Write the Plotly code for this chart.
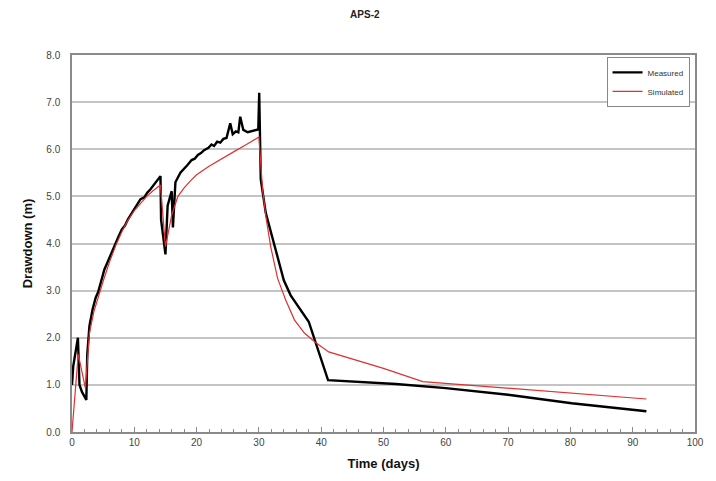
import plotly.graph_objects as go

# Measured drawdown (days, m)
meas_t = [0.0, 0.2, 0.95, 1.2, 1.6, 2.0, 2.3, 2.45, 2.8, 3.3, 3.8, 4.2, 4.7, 5.2, 5.7, 6.3, 6.8,
          7.4, 8.0, 8.5, 9.0, 9.5, 10.0, 10.5, 11.0, 11.6, 12.1, 12.6, 13.1, 13.6, 14.2, 14.3,
          15.0, 15.35, 16.0, 16.2, 16.6, 17.4, 18.0, 18.5, 19.2, 19.7, 20.2, 20.7, 21.2, 21.9,
          22.4, 22.8, 23.3, 23.8, 24.3, 24.8, 25.4, 25.8, 26.3, 26.7, 27.0, 27.5, 28.2, 29.0,
          29.9, 30.05, 30.15, 30.3, 31.1, 32.5, 34.0, 35.1, 38.0, 41.1, 52.0, 60.0, 70.0, 80.2, 92.2]
meas_d = [1.0, 1.4, 2.0, 1.0, 0.85, 0.76, 0.68, 1.65, 2.25, 2.6, 2.85, 2.97, 3.2, 3.45, 3.6, 3.8, 3.95,
          4.13, 4.3, 4.38, 4.52, 4.62, 4.72, 4.82, 4.94, 4.98, 5.08, 5.15, 5.24, 5.32, 5.43, 4.5,
          3.77, 4.8, 5.11, 4.34, 5.3, 5.5, 5.6, 5.66, 5.77, 5.8, 5.88, 5.92, 5.98, 6.03,
          6.1, 6.07, 6.16, 6.14, 6.22, 6.24, 6.55, 6.32, 6.38, 6.36, 6.69, 6.41, 6.36, 6.39,
          6.42, 7.2, 5.9, 5.36, 4.65, 3.93, 3.22, 2.9, 2.34, 1.1, 1.02, 0.93, 0.79, 0.61, 0.44]

# Simulated drawdown (days, m)
sim_t = [0.0, 1.0, 2.15, 2.8, 3.5, 4.2, 5.0, 6.0, 7.0, 8.0, 9.0, 10.0, 11.0, 12.0, 13.0, 14.2,
         15.0, 16.0, 17.0, 18.0, 19.0, 20.0, 22.0, 24.0, 26.0, 28.0, 30.0, 30.6, 31.2, 31.9,
         33.0, 34.3, 35.7, 37.3, 39.0, 41.2, 45.0, 50.0, 56.3, 65.0, 70.0, 80.2, 92.2]
sim_d = [0.0, 1.65, 0.93, 2.1, 2.55, 2.87, 3.2, 3.6, 3.95, 4.25, 4.5, 4.7, 4.85, 5.0, 5.12, 5.24,
         3.93, 4.6, 5.0, 5.18, 5.33, 5.46, 5.64, 5.8, 5.95, 6.1, 6.26, 5.13, 4.5, 3.93,
         3.26, 2.8, 2.38, 2.1, 1.91, 1.7, 1.55, 1.35, 1.07, 0.98, 0.93, 0.83, 0.70]

x_ticks = list(range(0, 101, 10))
y_ticks = [0, 1, 2, 3, 4, 5, 6, 7, 8]

FONT = "Liberation Sans, Arial, sans-serif"

fig = go.Figure()
fig.add_trace(go.Scatter(x=meas_t, y=meas_d, mode="lines", name="Measured",
                         line=dict(color="black", width=2.4)))
fig.add_trace(go.Scatter(x=sim_t, y=sim_d, mode="lines", name="Simulated",
                         line=dict(color="#e03030", width=1.2)))

fig.update_layout(
    width=708, height=473,
    margin=dict(l=64, r=14, t=47, b=49),
    paper_bgcolor="white", plot_bgcolor="white",
    font=dict(family=FONT, size=10, color="#333333"),
    title=dict(text="<b>APS-2</b>", x=0.504, xanchor="center", y=0.987, yanchor="middle",
               font=dict(family=FONT, size=10, color="#222222")),
    showlegend=True,
    legend=dict(x=0.858, y=0.995, xanchor="left", yanchor="top",
                bgcolor="white", bordercolor="#888888", borderwidth=1,
                font=dict(family=FONT, size=8, color="#333333"),
                tracegroupgap=0, itemwidth=30),
)
fig.update_xaxes(
    range=[0, 100], tickvals=x_ticks, ticktext=[str(v) for v in x_ticks],
    showgrid=False, zeroline=False,
    showline=True, linecolor="#8a8a8a", linewidth=1.5, mirror=True,
    ticks="inside", ticklen=5, tickcolor="#8a8a8a",
    minor=dict(dtick=2, ticks="inside", ticklen=3, tickcolor="#8a8a8a"),
    title=dict(text="<b>Time (days)</b>", font=dict(family=FONT, size=13, color="#111111"), standoff=12),
    tickfont=dict(family=FONT, size=10, color="#444444"),
)
fig.update_yaxes(
    range=[0, 8], tickvals=y_ticks, ticktext=[f"{v:.1f}" for v in y_ticks],
    showgrid=True, gridcolor="#c4c4c4", gridwidth=1.5, zeroline=False,
    showline=True, linecolor="#8a8a8a", linewidth=1.5, mirror=True,
    ticks="", ticklabelstandoff=8,
    title=dict(text="<b>Drawdown (m)</b>", font=dict(family=FONT, size=13, color="#111111"), standoff=11),
    tickfont=dict(family=FONT, size=10, color="#444444"),
)

fig.write_html("out.html")
